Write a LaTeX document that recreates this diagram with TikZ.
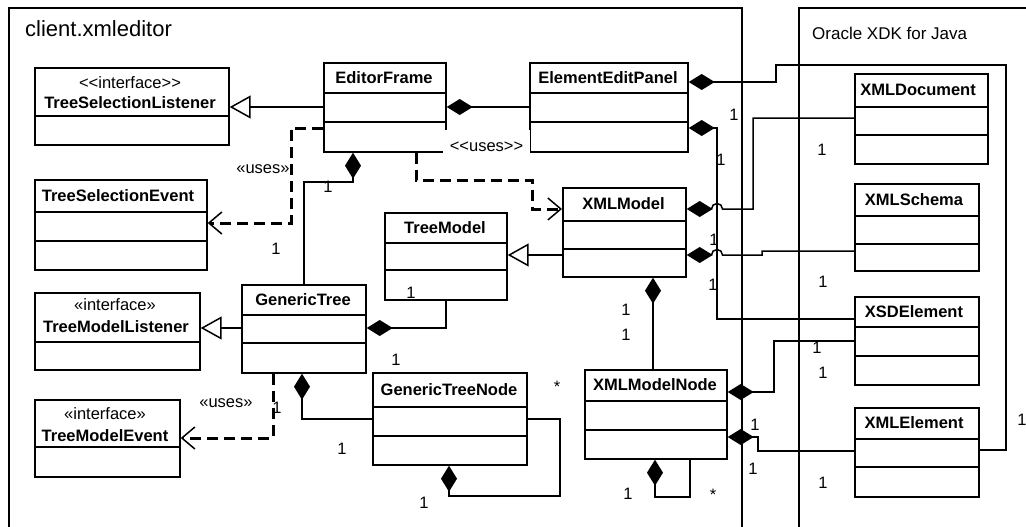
\documentclass[tikz,border=0pt]{standalone}
\usepackage{fontspec}
\setmainfont{Liberation Sans}[Ligatures=TeXOff]
\usetikzlibrary{arrows.meta}

\tikzset{
	classbox/.style={draw=black, line width=1.7pt, anchor=north west, inner sep=0pt, fill=white},
	cname/.style={font=\fontsize{16.5}{19}\selectfont\bfseries, inner sep=0pt},
	stereo/.style={font=\fontsize{16.5}{19}\selectfont, inner sep=0pt},
	mult/.style={font=\fontsize{16.5}{19}\selectfont, inner sep=0pt},
	sepline/.style={line width=1.7pt},
	comp/.style={line width=1.5pt, -{Diamond[length=26pt,width=16pt]}},
	gen/.style={line width=1.5pt, -{Triangle[open,length=21pt,width=23pt]}},
	dep/.style={line width=3pt, dash pattern=on 11pt off 6pt, -{Straight Barb[length=13pt,width=22pt,line width=1.5pt]}},
}

\begin{document}
\begin{tikzpicture}[x=1pt, y=-1pt]
	\useasboundingbox (0,0) rectangle (1026,527);
	\clip (0,0) rectangle (1026,527);

	% packages
	\draw[line width=1.7pt] (9,540) |- (742,8) -- (742,540);
	\draw[line width=1.7pt] (799,540) |- (1040,8);
	\node[anchor=base west, inner sep=0pt, font=\fontsize{22}{26}\selectfont] (clititle) at (25,37) {client.xmleditor};
	\node[anchor=base west, inner sep=0pt, font=\fontsize{17}{20}\selectfont] (xdktitle) at (812,40) {Oracle XDK for Java};

	% classes
	\node[classbox, minimum width=194pt, minimum height=77pt] (tsl) at (34,67) {};
	\node[classbox, minimum width=122pt, minimum height=89pt] (edfr) at (323,62) {};
	\node[classbox, minimum width=158pt, minimum height=89pt] (eep) at (529,62) {};
	\node[classbox, minimum width=172pt, minimum height=90pt] (tse) at (34,179) {};
	\node[classbox, minimum width=123pt, minimum height=89pt] (xmlm) at (562,187) {};
	\node[classbox, minimum width=122pt, minimum height=87pt] (trm) at (384,212) {};
	\node[classbox, minimum width=165pt, minimum height=77pt] (tml) at (34,292) {};
	\node[classbox, minimum width=124pt, minimum height=88pt] (gtr) at (241,284) {};
	\node[classbox, minimum width=145pt, minimum height=77pt] (tme) at (34,399) {};
	\node[classbox, minimum width=154pt, minimum height=92pt] (gtn) at (372,372) {};
	\node[classbox, minimum width=142pt, minimum height=89pt] (xmn) at (584,369) {};
	\node[classbox, minimum width=133pt, minimum height=90pt] (xdoc) at (854,73) {};
	\node[classbox, minimum width=124pt, minimum height=87pt] (xsch) at (854,183) {};
	\node[classbox, minimum width=124pt, minimum height=88pt] (xsd) at (854,296) {};
	\node[classbox, minimum width=124pt, minimum height=89pt] (xel) at (854,407) {};

	% compartments
	\draw[sepline] (tsl.west |- 0,116) -- (tsl.east |- 0,116);
	\draw[sepline] (edfr.west |- 0,93) -- (edfr.east |- 0,93);
	\draw[sepline] (edfr.west |- 0,122) -- (edfr.east |- 0,122);
	\draw[sepline] (eep.west |- 0,93) -- (eep.east |- 0,93);
	\draw[sepline] (eep.west |- 0,122) -- (eep.east |- 0,122);
	\draw[sepline] (tse.west |- 0,212) -- (tse.east |- 0,212);
	\draw[sepline] (tse.west |- 0,241) -- (tse.east |- 0,241);
	\draw[sepline] (xmlm.west |- 0,221) -- (xmlm.east |- 0,221);
	\draw[sepline] (xmlm.west |- 0,249) -- (xmlm.east |- 0,249);
	\draw[sepline] (trm.west |- 0,243) -- (trm.east |- 0,243);
	\draw[sepline] (trm.west |- 0,270) -- (trm.east |- 0,270);
	\draw[sepline] (tml.west |- 0,342) -- (tml.east |- 0,342);
	\draw[sepline] (gtr.west |- 0,315) -- (gtr.east |- 0,315);
	\draw[sepline] (gtr.west |- 0,343) -- (gtr.east |- 0,343);
	\draw[sepline] (tme.west |- 0,447) -- (tme.east |- 0,447);
	\draw[sepline] (gtn.west |- 0,407) -- (gtn.east |- 0,407);
	\draw[sepline] (gtn.west |- 0,436) -- (gtn.east |- 0,436);
	\draw[sepline] (xmn.west |- 0,401) -- (xmn.east |- 0,401);
	\draw[sepline] (xmn.west |- 0,430) -- (xmn.east |- 0,430);
	\draw[sepline] (xdoc.west |- 0,107) -- (xdoc.east |- 0,107);
	\draw[sepline] (xdoc.west |- 0,135) -- (xdoc.east |- 0,135);
	\draw[sepline] (xsch.west |- 0,216) -- (xsch.east |- 0,216);
	\draw[sepline] (xsch.west |- 0,244) -- (xsch.east |- 0,244);
	\draw[sepline] (xsd.west |- 0,327) -- (xsd.east |- 0,327);
	\draw[sepline] (xsd.west |- 0,356) -- (xsd.east |- 0,356);
	\draw[sepline] (xel.west |- 0,439) -- (xel.east |- 0,439);
	\draw[sepline] (xel.west |- 0,467) -- (xel.east |- 0,467);

	% names
	\node[stereo] (tsl-s) at (130,83) {<<interface>>};
	\node[cname] (tsl-n) at (130,103) {TreeSelectionListener};
	\node[cname] (edfr-n) at (384,77.5) {EditorFrame};
	\node[cname] (eep-n) at (608,77.5) {ElementEditPanel};
	\node[cname] (tse-n) at (118,195.5) {TreeSelectionEvent};
	\node[cname] (xmlm-n) at (623.5,204) {XMLModel};
	\node[cname] (trm-n) at (445,227.5) {TreeModel};
	\node[stereo] (tml-s) at (115,305) {«interface»};
	\node[cname] (tml-n) at (116,327) {TreeModelListener};
	\node[cname] (gtr-n) at (303,299.5) {GenericTree};
	\node[stereo] (tme-s) at (105,414) {«interface»};
	\node[cname] (tme-n) at (105,436) {TreeModelEvent};
	\node[cname] (gtn-n) at (449,389.5) {GenericTreeNode};
	\node[cname] (xmn-n) at (655,385) {XMLModelNode};
	\node[cname] (xdoc-n) at (918,90) {XMLDocument};
	\node[cname] (xsch-n) at (914,199.5) {XMLSchema};
	\node[cname] (xsd-n) at (914,311.5) {XSDElement};
	\node[cname] (xel-n) at (914,423) {XMLElement};

	% relations
	\draw[gen] (edfr.west |- 0,107) -- (tsl.east |- 0,107);
	\draw[gen] (gtr.west |- 0,328) -- (tml.east |- 0,328);
	\draw[gen] (xmlm.west |- 0,255) -- (trm.east |- 0,255);

	\draw[comp] (eep.west |- 0,107) -- (edfr.east |- 0,107);
	\draw[comp] (gtr.north) |- (353,182) -- (edfr.south -| 353,0);
	\draw[comp] (trm.south) |- (gtr.east |- 0,328);
	\draw[comp] (xmn.north -| 653,0) -- (xmlm.south -| 653,0);
	\draw[comp] (gtn.west |- 0,419) -| (gtr.south -| 302,0);
	\draw[comp] (gtn.east |- 0,419) -- (560,419) |- (449,496) -- (gtn.south -| 449,0);
	\draw[comp] (xmn.south -| 690,0) |- (655,497) -- (xmn.south -| 655,0);

	\draw[comp] (xel.east |- 0,450) -| (1006,65) -| (776,82) -- (eep.east |- 0,82);
	\draw[comp] (xsd.west |- 0,319) -| (717,128) -- (eep.east |- 0,128);
	\draw[comp] (xdoc.west |- 0,118) -| (753,209) -- (722.5,209) arc[start angle=0, end angle=180, radius=5.5pt] -- (xmlm.east |- 0,209);
	\draw[comp] (xsch.west |- 0,251) -- (762,251) -- (762,255) -- (722.5,255) arc[start angle=0, end angle=180, radius=5.5pt] -- (xmlm.east |- 0,255);
	\draw[comp] (xsd.west |- 0,341) -| (774,392) -- (xmn.east |- 0,392);
	\draw[comp] (xel.west |- 0,451) -| (758,437) -- (xmn.east |- 0,437);

	\draw[dep] (edfr.west |- 0,128) -| (291,223) -- (tse.east |- 0,223);
	\draw[dep] (edfr.south -| 416,0) -- (416,180) -| (532,209) -- (xmlm.west |- 0,209);
	\draw[dep] (gtr.south -| 273,0) |- (tme.east |- 0,438);

	% stereotypes on dependencies
	\node[stereo, anchor=north, fill=white, text height=21pt, text depth=2pt, minimum width=87pt] (uses1) at (486.5,130) {<<uses>>};
	\node[stereo] (uses2) at (263,169) {«uses»};
	\node[stereo] (uses3) at (226,403) {«uses»};

	% multiplicities
	\node[mult] (m1) at (328,187) {1};
	\node[mult] (m2) at (276,249) {1};
	\node[mult] (m3) at (411,293) {1};
	\node[mult] (m4) at (396,360) {1};
	\node[mult] (m5) at (342,449) {1};
	\node[mult] (m6) at (424,503) {1};
	\node[mult] (m7) at (557,386.5) {*};
	\node[mult] (m8) at (626,310) {1};
	\node[mult] (m9) at (626,335) {1};
	\node[mult] (m10) at (628,494) {1};
	\node[mult] (m11) at (713,494.5) {*};
	\node[mult] (m12) at (277,408) {1};
	\node[mult] (m13) at (734,115) {1};
	\node[mult] (m14) at (721,160) {1};
	\node[mult] (m15) at (822,150) {1};
	\node[mult] (m16) at (714,240) {1};
	\node[mult] (m17) at (713,285) {1};
	\node[mult] (m18) at (823,282) {1};
	\node[mult] (m19) at (817,348) {1};
	\node[mult] (m20) at (823,373) {1};
	\node[mult] (m21) at (755,425) {1};
	\node[mult] (m22) at (753,469) {1};
	\node[mult] (m23) at (823,483) {1};
	\node[mult] (m24) at (1022,420) {1};
\end{tikzpicture}
\end{document}
